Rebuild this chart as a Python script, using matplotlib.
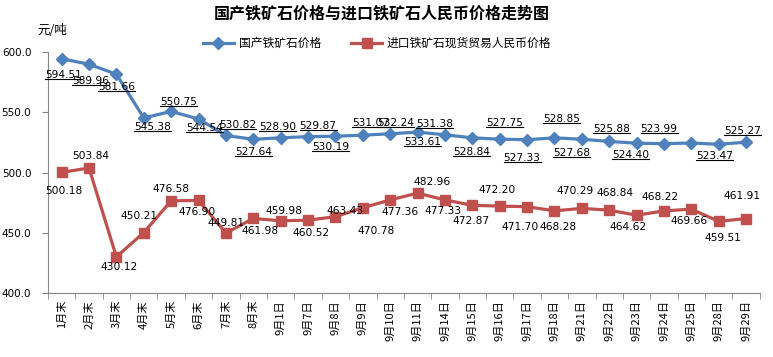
import matplotlib
matplotlib.use("Agg")
import matplotlib.pyplot as plt
from matplotlib.lines import Line2D

plt.rcParams['font.family'] = ['DejaVu Sans', 'Noto Sans CJK SC']

# categories (x axis)
dates = ['1月末', '2月末', '3月末', '4月末', '5月末', '6月末', '7月末', '8月末',
         '9月1日', '9月7日', '9月8日', '9月9日', '9月10日', '9月11日', '9月14日',
         '9月15日', '9月16日', '9月17日', '9月18日', '9月21日', '9月22日',
         '9月23日', '9月24日', '9月25日', '9月28日', '9月29日']

# domestic iron ore price (9/25 has no label in the source, value estimated)
domestic = [594.51, 589.96, 581.66, 545.38, 550.75, 544.54, 530.82, 527.64,
            528.90, 529.87, 530.19, 531.07, 532.24, 533.61, 531.38, 528.84,
            527.75, 527.33, 528.85, 527.68, 525.88, 524.40, 523.99, 524.60,
            523.47, 525.27]
domestic_labeled = [True] * 23 + [False, True, True]

# imported iron ore spot trade price in RMB
imported = [500.18, 503.84, 430.12, 450.21, 476.58, 476.90, 449.81, 461.98,
            459.98, 460.52, 463.43, 470.78, 477.36, 482.96, 477.33, 472.87,
            472.20, 471.70, 468.28, 470.29, 468.84, 464.62, 468.22, 469.66,
            459.51, 461.91]

series_names = ['国产铁矿石价格', '进口铁矿石现货贸易人民币价格']
yticks = [400, 450, 500, 550, 600]

# label offsets in pixels (dx, dy) relative to each marker
blue_off = [(2, -16), (2, -17), (0, -13), (9, -9), (7, 9), (6, -9), (12, 10),
            (0, -13), (-3, 11), (10, 11), (-5, -11), (8, 12), (5, 11), (5, -10),
            (-10, 11), (-1, -14), (5, 16), (-5, -18), (7, 19), (-10, -14),
            (2, 12), (-6, -12), (-5, 15), (0, 0), (-4, -12), (-4, 11)]
red_off = [(2, -19), (2, 12), (3, -10), (-5, 17), (0, 12), (-1, -12), (0, 10),
           (7, -13), (3, 10), (3, -13), (10, 6), (13, -23), (10, -12), (14, 11),
           (-2, -11), (-1, -16), (-3, 16), (-7, -20), (4, -16), (-7, 17),
           (6, 17), (-9, -12), (-4, 14), (-2, -12), (4, -17), (-4, 23)]

blue = '#4F81BD'
red = '#C0504D'
grey = '#868686'

fig = plt.figure(figsize=(7.73, 3.57), dpi=100)
ax = fig.add_axes([0.062, 0.179, 0.921, 0.675])

x = list(range(len(dates)))
ax.plot(x, domestic, color=blue, lw=2.3, marker='D', ms=6.5, label=series_names[0])
ax.plot(x, imported, color=red, lw=2.3, marker='s', ms=7, label=series_names[1])

ax.set_xlim(-0.5, len(dates) - 0.5)
ax.set_ylim(400, 600)
ax.set_yticks(yticks)
ax.set_yticklabels([f'{v:.1f}' for v in yticks], fontsize=7.5)
ax.set_xticks(x)
ax.set_xticklabels(dates, rotation=90, fontsize=8,
                   family=['Noto Sans CJK SC', 'DejaVu Sans'])
ax.set_xticks([i - 0.5 for i in range(len(dates) + 1)], minor=True)
ax.tick_params(axis='x', which='major', length=0, pad=5)
ax.tick_params(axis='x', which='minor', length=4, color=grey, direction='out')
ax.tick_params(axis='y', length=4, color=grey, direction='out', pad=8)
for s in ['top', 'right']:
    ax.spines[s].set_visible(False)
for s in ['left', 'bottom']:
    ax.spines[s].set_color(grey)

# data labels
blue_texts = []
for i, v in enumerate(domestic):
    if not domestic_labeled[i]:
        continue
    t = ax.annotate(f'{v:.2f}', (i, v), xytext=blue_off[i], textcoords='offset pixels',
                    ha='center', va='center', fontsize=7.7)
    blue_texts.append(t)
for i, v in enumerate(imported):
    ax.annotate(f'{v:.2f}', (i, v), xytext=red_off[i], textcoords='offset pixels',
                ha='center', va='center', fontsize=7.7)

fig.suptitle('国产铁矿石价格与进口铁矿石人民币价格走势图', x=0.494, y=0.985,
             fontsize=11.5, fontweight='bold', family=['Noto Sans CJK SC'])
fig.text(0.068, 0.915, '元/吨', fontsize=9, ha='center', va='center',
         family=['Noto Sans CJK SC', 'DejaVu Sans'])
fig.legend(loc='center', bbox_to_anchor=(0.488, 0.878), ncol=2, frameon=False,
           prop={'family': 'Noto Sans CJK SC', 'size': 8.5},
           handlelength=2.6, columnspacing=2.6, handletextpad=0.4)

# underline the blue labels
fig.canvas.draw()
r = fig.canvas.get_renderer()
inv = fig.transFigure.inverted()
for t in blue_texts:
    bb = t.get_window_extent(r)
    (x0, y0), (x1, _) = inv.transform([(bb.x0, bb.y0 + 1), (bb.x1, bb.y0 + 1)])
    fig.add_artist(Line2D([x0, x1], [y0, y0], color='black', lw=0.8))

fig.savefig('out.png', dpi=100)
